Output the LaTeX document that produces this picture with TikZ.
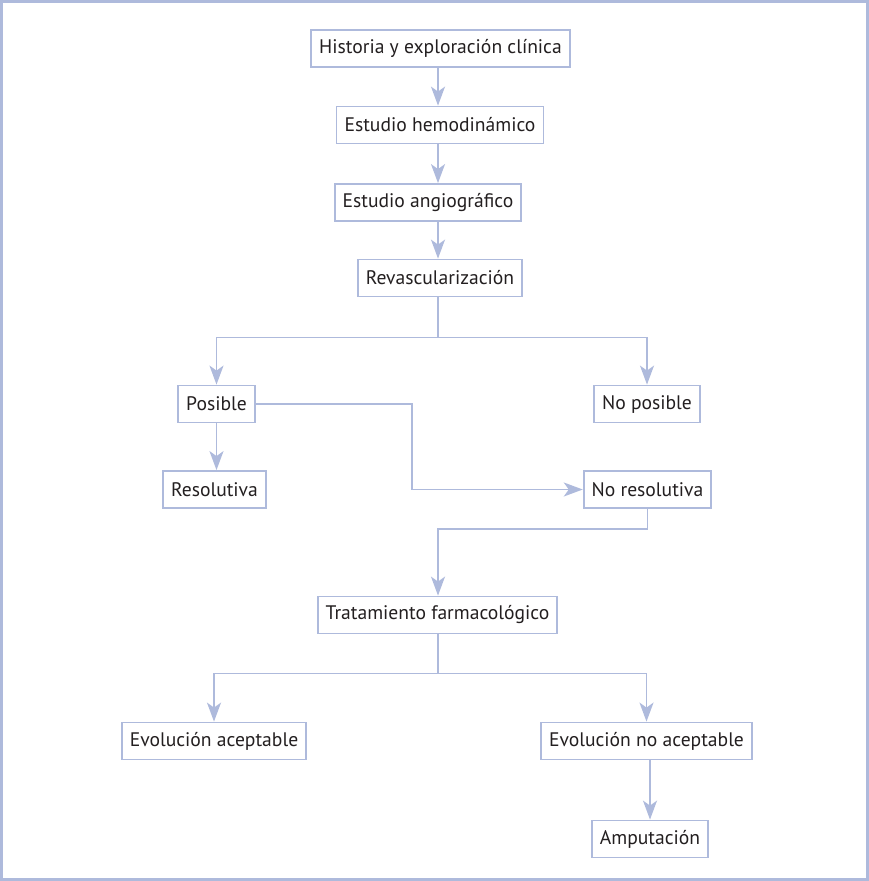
\documentclass[tikz,border=0pt]{standalone}
\usepackage{fontspec}
\setmainfont{PT Sans}
\usetikzlibrary{arrows.meta}
\definecolor{lineblue}{HTML}{AEBADC}
\definecolor{txtgray}{HTML}{231F20}

\begin{document}
\begin{tikzpicture}
  [x=1pt,y=-1pt,
   every node/.style={draw=lineblue,line width=1.8pt,fill=white,text=txtgray,
     font=\fontsize{19.6}{23}\selectfont,inner xsep=8pt,minimum height=37pt},
   ln/.style={draw=lineblue,line width=1.8pt},
   arr/.style={ln,-{Stealth[length=19pt,width=14pt,inset=5pt]}}]
  \useasboundingbox (0,0) rectangle (869,881);
  \draw[lineblue,line width=3pt] (1.5,1.5) rectangle (867.5,879.5);
  \coordinate (spine) at (438,0);
  \node (nhist) at (440.5,48.5) {Historia y exploración clínica};
  \node (nhemo) at (440,125) {Estudio hemodinámico};
  \node (nangio) at (428,202.5) {Estudio angiográfico};
  \node (nrevasc) at (440,278) {Revascularización};
  \node (nposible) at (216.5,404) {Posible};
  \node (nnoposible) at (647,404) {No posible};
  \node (nresol) at (214.5,489.5) {Resolutiva};
  \node (nnores) at (647.5,489.5) {No resolutiva};
  \node (ntrat) at (437.5,615) {Tratamiento farmacológico};
  \node (nevacep) at (214,741) {Evolución aceptable};
  \node (nevnoac) at (646.5,741) {Evolución no aceptable};
  \node (namput) at (650,839) {Amputación};

  % main line
  \draw[arr] (nhist.south -| spine) -- (nhemo.north -| spine);
  \draw[arr] (nhemo.south -| spine) -- (nangio.north -| spine);
  \draw[arr] (nangio.south -| spine) -- (nrevasc.north -| spine);
  \draw[ln] (nrevasc.south -| spine) -- ++(0,40) coordinate (nj1);
  \draw[arr] (nj1) -| (nposible.north);
  \draw[arr] (nj1) -| (nnoposible.north);
  \draw[arr] (nposible.south) -- (nresol.north -| nposible.south);
  \draw[arr] (nposible.east) -- ++(156,0) |- (nnores.west);
  \draw[arr] (nnores.south) -- ++(0,20) -| (ntrat.north -| spine);
  % tratamiento
  \draw[ln] (ntrat.south -| spine) -- ++(0,39) coordinate (nj2);
  \draw[arr] (nj2) -| (nevacep.north);
  \draw[arr] (nj2) -| (nevnoac.north);
  \draw[arr] (namput.north |- nevnoac.south) -- (namput.north);
\end{tikzpicture}
\end{document}
